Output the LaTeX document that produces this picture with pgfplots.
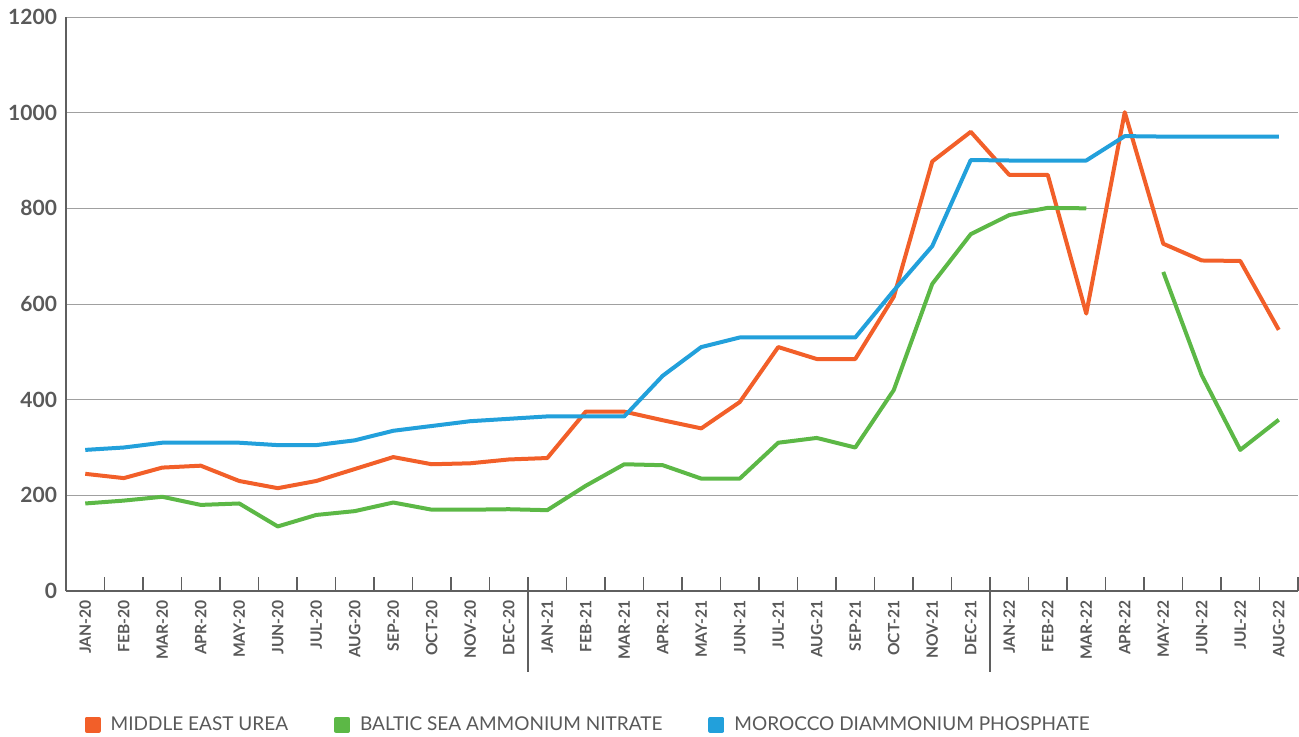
\documentclass[border=0pt]{standalone}
\usepackage{fontspec}
\setmainfont{Lato}
\usepackage{pgfplots}
\usepackage{pgfplotstable}
\pgfplotsset{compat=1.18}
\definecolor{urea}{RGB}{242,95,41}
\definecolor{baltic}{RGB}{92,184,70}
\definecolor{morocco}{RGB}{34,160,219}
\definecolor{txtgray}{RGB}{89,89,89}
\definecolor{axgray}{RGB}{95,95,95}
\definecolor{gridgray}{RGB}{160,160,160}

\pgfplotstableread{
x urea baltic morocco
0 245 183 295
1 236 189 300
2 258 197 310
3 262 180 310
4 230 183 310
5 215 135 305
6 230 159 305
7 255 167 315
8 280 185 335
9 265 170 345
10 267 170 355
11 275 171 360
12 278 169 365
13 375 220 365
14 375 265 365
15 357 263 450
16 340 235 510
17 395 235 530
18 510 310 530
19 485 320 530
20 485 300 530
21 615 420 628
22 898 642 721
23 960 746 901
24 870 786 900
25 870 801 900
26 580 800 900
27 1001 nan 951
28 726 667 950
29 691 451 950
30 690 295 950
31 546 358 950
}\data

\begin{document}
\begin{tikzpicture}
\path[use as bounding box] (0,0) rectangle (649.5pt,368pt);
\begin{axis}[
  at={(33pt,72.5pt)}, anchor=south west,
  scale only axis,
  width=616pt, height=287pt,
  xmin=-0.5, xmax=31.5,
  ymin=0, ymax=1200,
  axis x line*=bottom, axis y line*=left,
  axis line style={axgray, line width=0.75pt},
  xtick={0,...,31},
  xticklabels={JAN-20,FEB-20,MAR-20,APR-20,MAY-20,JUN-20,JUL-20,AUG-20,SEP-20,OCT-20,NOV-20,DEC-20,JAN-21,FEB-21,MAR-21,APR-21,MAY-21,JUN-21,JUL-21,AUG-21,SEP-21,OCT-21,NOV-21,DEC-21,JAN-22,FEB-22,MAR-22,APR-22,MAY-22,JUN-22,JUL-22,AUG-22},
  major x tick style={draw=none},
  minor xtick={-0.5,0.5,...,31.5},
  minor tick length=7pt,
  xtick align=inside,
  minor x tick style={axgray, line width=0.6pt},
  x tick label style={rotate=90, anchor=east, font=\bfseries\fontsize{7.8}{9}\selectfont, text=txtgray, inner sep=1pt},
  xticklabel shift=3.5pt,
  ytick={0,200,...,1200},
  ytick style={draw=none},
  y tick label style={font=\bfseries\fontsize{10.5}{11}\selectfont, text=txtgray},
  yticklabel shift=1pt,
  /pgf/number format/assume math mode=true,
  /pgf/number format/set thousands separator={},
  ymajorgrids,
  grid style={gridgray, line width=0.5pt},
  unbounded coords=jump,
  legend columns=3,
  legend style={at={(axis description cs:0.01,-0.233)}, anchor=west, draw=none, fill=none,
    font=\fontsize{9.5}{11}\selectfont, text=txtgray,
    /tikz/every even column/.append style={column sep=21pt},
    /tikz/every odd column/.append style={column sep=3pt}},
  legend cell align=left,
  legend image code/.code={\fill[#1] (0pt,-3pt) rectangle (6pt,3pt);},
  clip=false,
]
\addplot[urea, line width=2pt, line join=round] table[x=x, y=urea] {\data};
\addlegendentry{MIDDLE EAST UREA}
\addplot[baltic, line width=2pt, line join=round] table[x=x, y=baltic] {\data};
\addlegendentry{BALTIC SEA AMMONIUM NITRATE}
\addplot[morocco, line width=2pt, line join=round] table[x=x, y=morocco] {\data};
\addlegendentry{MOROCCO DIAMMONIUM PHOSPHATE}
\draw[axgray, line width=0.6pt] (axis cs:11.5,0) -- ([yshift=-40.5pt]axis cs:11.5,0);
\draw[axgray, line width=0.6pt] (axis cs:23.5,0) -- ([yshift=-40.5pt]axis cs:23.5,0);
\end{axis}
\end{tikzpicture}
\end{document}
